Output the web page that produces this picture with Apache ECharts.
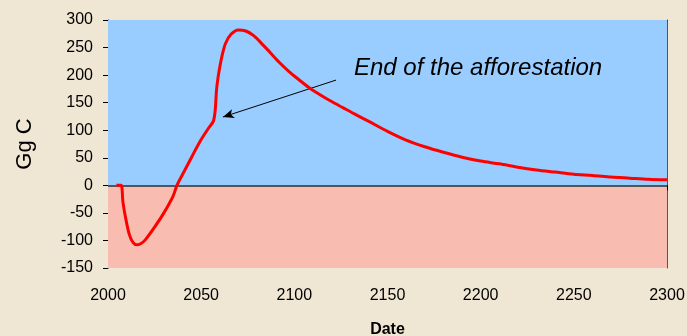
<!DOCTYPE html>
<html>
<head>
<meta charset="utf-8">
<script src="https://cdn.jsdelivr.net/npm/echarts@6/dist/echarts.min.js"></script>
<style>
  html, body { margin: 0; padding: 0; background: #F0E6D4; }
  #chart { width: 687px; height: 336px; }
</style>
</head>
<body>
<div id="chart"></div>
<script>
// Carbon balance over time (Gg C)
const years = [
  2004.5, 2007, 2008, 2009.5, 2011.5, 2013.5, 2015.5, 2017.5, 2020, 2025,
  2030, 2035, 2037, 2041, 2045, 2050, 2054, 2056.5, 2057.5, 2058.3,
  2059.5, 2061, 2063, 2066, 2070, 2074, 2078, 2082, 2087, 2092,
  2097, 2102, 2108, 2114, 2120, 2126, 2132, 2140, 2150, 2160,
  2170, 2180, 2190, 2200, 2210, 2220, 2230, 2240, 2250, 2260,
  2270, 2280, 2290, 2300
];
const carbon = [
  0, 0, -30, -60, -90, -104, -108, -106, -99, -76,
  -50, -19, 0, 26, 52, 83, 104, 116, 135, 175,
  205, 232, 257, 274, 282, 280, 272, 259, 241, 223,
  207, 193, 177, 164, 152, 141, 130, 116, 98, 82,
  70, 60, 51, 44, 39, 33, 28, 24, 20, 18,
  15, 13, 11, 10
];
const yTicks = { min: -150, max: 300, step: 50 };
const xTicks = { min: 2000, max: 2300, step: 50 };
const annotationText = 'End of the afforestation';
const arrowFrom = [2122.4, 191];
const arrowTo = [2061.7, 124];

const FONT = '"Liberation Sans", Arial, sans-serif';
const chart = echarts.init(document.getElementById('chart'));

chart.setOption({
  backgroundColor: '#F0E6D4',
  animation: false,
  grid: { left: 108, top: 20, right: 20, bottom: 68, outerBoundsMode: 'none', containLabel: false },
  xAxis: [{
    type: 'value',
    min: xTicks.min, max: xTicks.max, interval: xTicks.step,
    name: 'Date',
    nameLocation: 'middle',
    nameGap: 54,
    nameTextStyle: { fontFamily: FONT, fontSize: 16, fontWeight: 'bold', color: '#000' },
    axisLine: { show: true, lineStyle: { color: '#000', width: 1 } },
    axisTick: { show: true, length: 5, lineStyle: { color: '#000' } },
    axisLabel: { fontFamily: FONT, fontSize: 16, color: '#000', margin: 20, formatter: v => String(v) },
    splitLine: { show: false }
  }, {
    type: 'value', position: 'top',
    min: xTicks.min, max: xTicks.max,
    axisLine: { show: true, onZero: false, lineStyle: { color: '#000', width: 1 } },
    axisTick: { show: false }, axisLabel: { show: false }, splitLine: { show: false }
  }],
  yAxis: [{
    type: 'value',
    min: yTicks.min, max: yTicks.max, interval: yTicks.step,
    name: 'Gg C',
    nameLocation: 'middle',
    nameGap: 72,
    nameRotate: 90,
    nameTextStyle: { fontFamily: FONT, fontSize: 22, color: '#000' },
    axisLine: { show: true, onZero: false, lineStyle: { color: '#000', width: 1 } },
    axisTick: { show: true, length: 5, lineStyle: { color: '#000' } },
    axisLabel: { fontFamily: FONT, fontSize: 16, color: '#000', margin: 15 },
    splitLine: { show: false }
  }, {
    type: 'value', position: 'right',
    min: yTicks.min, max: yTicks.max,
    axisLine: { show: true, onZero: false, lineStyle: { color: '#555', width: 1 } },
    axisTick: { show: false }, axisLabel: { show: false }, splitLine: { show: false }
  }],
  series: [{
    type: 'line',
    data: years.map((y, i) => [y, carbon[i]]),
    showSymbol: false,
    smooth: 0.3,
    lineStyle: { color: '#FF0000', width: 3 },
    z: 5,
    markArea: {
      silent: true,
      data: [
        [{ yAxis: 0, itemStyle: { color: '#99CCFF' } }, { yAxis: yTicks.max }],
        [{ yAxis: yTicks.min, itemStyle: { color: '#F8BCB1' } }, { yAxis: 0 }]
      ]
    },
    markLine: {
      silent: true,
      animation: false,
      label: { show: false },
      data: [
        [{ yAxis: 0, x: 108, symbol: 'none', lineStyle: { color: '#555', width: 2, type: 'solid' } },
         { yAxis: 0, x: 667, symbol: 'none' }],
        [{ coord: arrowFrom, symbol: 'none', lineStyle: { color: '#000', width: 1, type: 'solid' } },
         { coord: arrowTo, symbol: 'arrow', symbolSize: [7, 11] }]
      ]
    }
  }],
  graphic: [{
    type: 'text',
    left: 354, top: 56,
    style: {
      text: annotationText,
      font: 'italic 24px ' + FONT,
      fill: '#000'
    },
    z: 10
  }]
});
</script>
</body>
</html>
